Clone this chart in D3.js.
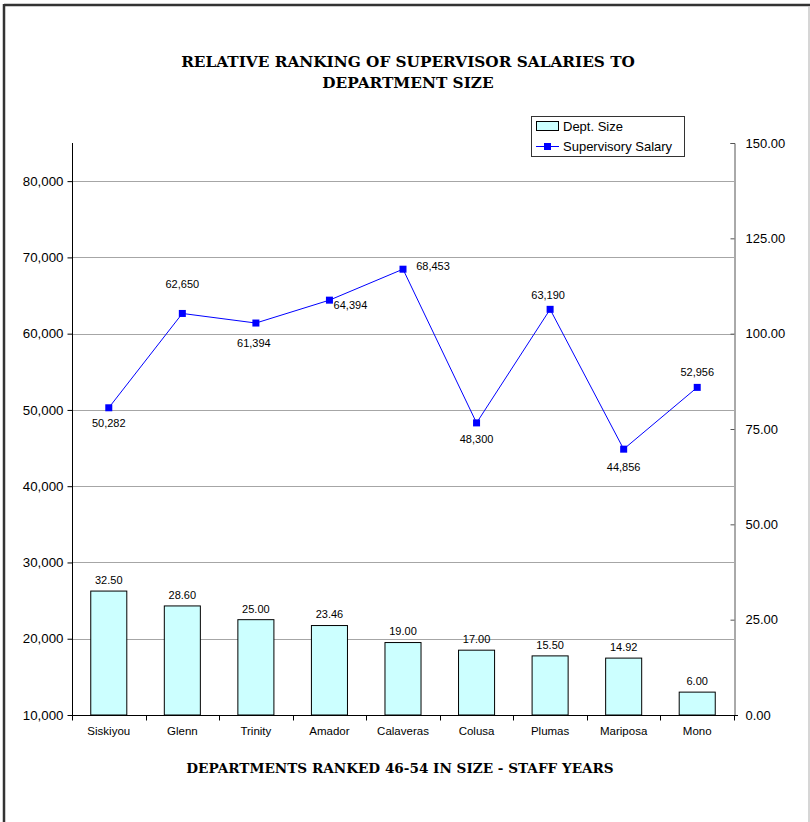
<!DOCTYPE html>
<html>
<head>
<meta charset="utf-8">
<script src="https://cdn.jsdelivr.net/npm/d3@7"></script>
<style>
  html, body { margin: 0; padding: 0; background: #fff; }
  svg { display: block; }
</style>
</head>
<body>
<svg id="chart" width="810" height="822"></svg>
<script>
// ---- data ----
const categories = ["Siskiyou", "Glenn", "Trinity", "Amador", "Calaveras", "Colusa", "Plumas", "Mariposa", "Mono"];
const deptSize = [32.50, 28.60, 25.00, 23.46, 19.00, 17.00, 15.50, 14.92, 6.00];
const salary = [50282, 62650, 61394, 64394, 68453, 48300, 63190, 44856, 52956];
const leftTicks = [10000, 20000, 30000, 40000, 50000, 60000, 70000, 80000];
const rightTicks = [0, 25, 50, 75, 100, 125, 150];
const titleLines = ["RELATIVE RANKING OF SUPERVISOR SALARIES TO", "DEPARTMENT SIZE"];
const xTitle = "DEPARTMENTS RANKED 46-54 IN SIZE - STAFF YEARS";
const seriesNames = ["Dept. Size", "Supervisory Salary"];

// label offsets for salary labels (dx, dy of label center relative to point)
const salaryLabelOffsets = [[0,15],[0,-29],[-2,20],[21,5],[30,-3],[0,16],[-2,-14],[0,18],[0,-15]];

// ---- layout ----
const svg = d3.select("#chart");
const L = 72, R = 734, T = 143, B = 715;
const sans = "'Liberation Sans', Arial, sans-serif";
const serif = "'DejaVu Serif', 'Liberation Serif', serif";

// outer frame
svg.append("line").attr("x1", 4).attr("x2", 810).attr("y1", 5).attr("y2", 5).attr("stroke", "#333").attr("stroke-width", 2.5);
svg.append("line").attr("x1", 4).attr("x2", 4).attr("y1", 4).attr("y2", 822).attr("stroke", "#333").attr("stroke-width", 2.5);
svg.append("line").attr("x1", 809).attr("x2", 809).attr("y1", 6).attr("y2", 822).attr("stroke", "#c8c8c8").attr("stroke-width", 1.5);

const x = d3.scaleBand().domain(categories).range([L, R]).paddingInner(0).paddingOuter(0);
const yL = d3.scaleLinear().domain([10000, 85000]).range([B, T]);
const yR = d3.scaleLinear().domain([0, 150]).range([B, T]);

// gridlines
svg.append("g").selectAll("line").data(leftTicks.filter(d => d > 10000)).join("line")
  .attr("x1", L).attr("x2", R)
  .attr("y1", d => Math.round(yL(d)) + 0.5).attr("y2", d => Math.round(yL(d)) + 0.5)
  .attr("stroke", "#a6a6a6").attr("stroke-width", 1);

// bars
const bw = x.bandwidth() * 0.49;
svg.append("g").selectAll("rect").data(categories).join("rect")
  .attr("x", (d) => x(d) + (x.bandwidth() - bw) / 2)
  .attr("width", bw)
  .attr("y", (d, i) => yR(deptSize[i]))
  .attr("height", (d, i) => B - yR(deptSize[i]))
  .attr("fill", "#ccffff").attr("stroke", "#000").attr("stroke-width", 1);

// bar labels
svg.append("g").selectAll("text").data(categories).join("text")
  .attr("x", d => x(d) + x.bandwidth() / 2)
  .attr("y", (d, i) => yR(deptSize[i]) - 11)
  .attr("dy", "0.35em")
  .attr("text-anchor", "middle")
  .attr("font-family", sans).attr("font-size", 11).attr("fill", "#000")
  .text((d, i) => d3.format(".2f")(deptSize[i]));

// left axis
const leftAxis = d3.axisLeft(yL).tickValues(leftTicks).tickFormat(d3.format(",")).tickSizeOuter(0).tickSize(5).tickPadding(4);
const gl = svg.append("g").attr("transform", `translate(${L + 0.5},0)`).call(leftAxis);
gl.select(".domain").attr("stroke", "#000").attr("d", `M0,${T}V${B}`);
gl.selectAll(".tick line").attr("stroke", "#000");
gl.selectAll(".tick text").attr("font-family", sans).attr("font-size", 13.3).attr("fill", "#000");

// right axis (ticks pointing inward)
const rightAxis = d3.axisRight(yR).tickValues(rightTicks).tickFormat(d3.format(".2f")).tickSizeOuter(0).tickSize(-4).tickPadding(11);
const gr = svg.append("g").attr("transform", `translate(${R + 0.5},0)`).call(rightAxis);
gr.select(".domain").attr("stroke", "#555");
gr.selectAll(".tick line").attr("stroke", "#555");
gr.selectAll(".tick text").attr("font-family", sans).attr("font-size", 13).attr("fill", "#000");

// x axis
const gx = svg.append("g").attr("transform", `translate(0,${B + 0.5})`);
gx.append("line").attr("x1", L).attr("x2", R + 4).attr("y1", 0).attr("y2", 0).attr("stroke", "#000");
const bounds = categories.map(d => x(d)).concat([R]);
gx.selectAll("line.tk").data(bounds).join("line").attr("class", "tk")
  .attr("x1", d => Math.round(d) + 0.5).attr("x2", d => Math.round(d) + 0.5)
  .attr("y1", 0).attr("y2", 5).attr("stroke", "#000");
gx.selectAll("text").data(categories).join("text")
  .attr("x", d => x(d) + x.bandwidth() / 2)
  .attr("y", 19).attr("dy", "0")
  .attr("text-anchor", "middle")
  .attr("font-family", sans).attr("font-size", 11.5).attr("fill", "#000")
  .text(d => d);

// salary line
const cx = d => x(d) + x.bandwidth() / 2;
const line = d3.line().x((d, i) => cx(categories[i])).y(d => yL(d));
svg.append("path").datum(salary).attr("d", line)
  .attr("fill", "none").attr("stroke", "#0000ff").attr("stroke-width", 1);
svg.append("g").selectAll("rect").data(salary).join("rect")
  .attr("x", (d, i) => cx(categories[i]) - 3.5)
  .attr("y", d => yL(d) - 3.5)
  .attr("width", 7).attr("height", 7)
  .attr("fill", "#0000ff");

// salary labels
svg.append("g").selectAll("text").data(salary).join("text")
  .attr("x", (d, i) => cx(categories[i]) + salaryLabelOffsets[i][0])
  .attr("y", (d, i) => yL(d) + salaryLabelOffsets[i][1])
  .attr("dy", "0.35em")
  .attr("text-anchor", "middle")
  .attr("font-family", sans).attr("font-size", 11).attr("fill", "#000")
  .text(d => d3.format(",")(d));

// title
svg.append("g").selectAll("text").data(titleLines).join("text")
  .attr("x", 408).attr("y", (d, i) => 67 + i * 21)
  .attr("text-anchor", "middle")
  .attr("font-family", serif).attr("font-weight", "bold").attr("font-size", 15.3).attr("fill", "#000")
  .text(d => d);

// x axis title
svg.append("text").attr("x", 400).attr("y", 773)
  .attr("text-anchor", "middle")
  .attr("font-family", serif).attr("font-weight", "bold").attr("font-size", 13.6).attr("fill", "#000")
  .text(xTitle);

// legend
const lg = svg.append("g");
lg.append("rect").attr("x", 531.5).attr("y", 116.5).attr("width", 153).attr("height", 40)
  .attr("fill", "#fff").attr("stroke", "#333").attr("stroke-width", 1);
lg.append("rect").attr("x", 536.5).attr("y", 121.5).attr("width", 22).attr("height", 9)
  .attr("fill", "#ccffff").attr("stroke", "#000");
lg.append("line").attr("x1", 536).attr("x2", 559).attr("y1", 146.5).attr("y2", 146.5).attr("stroke", "#0000ff");
lg.append("rect").attr("x", 544).attr("y", 143).attr("width", 7).attr("height", 7).attr("fill", "#0000ff");
lg.selectAll("text").data(seriesNames).join("text")
  .attr("x", 563).attr("y", (d, i) => 126 + i * 20).attr("dy", "0.35em")
  .attr("font-family", sans).attr("font-size", 13).attr("fill", "#000")
  .text(d => d);
</script>
</body>
</html>
